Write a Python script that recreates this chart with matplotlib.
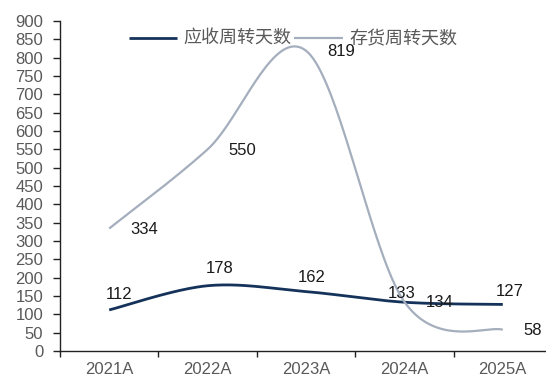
import numpy as np
import matplotlib
matplotlib.use("Agg")
import matplotlib.pyplot as plt

plt.rcParams["font.family"] = ["Liberation Sans", "Noto Sans CJK SC", "DejaVu Sans"]

years = ["2021A", "2022A", "2023A", "2024A", "2025A"]
receivable_days = [112, 178, 162, 133, 127]
inventory_days = [334, 550, 819, 134, 58]

# label offsets in pixels (dx, dy) for the receivable series
recv_offsets = [(10, 11), (12, 13), (6, 10), (-3, 4), (7, 8)]

DARK = "#15335A"
LIGHT = "#A4AEBD"
TICK = "#595959"


def smooth(xs, ys, n=40):
    """Catmull-Rom style bezier smoothing through every point."""
    pts = np.column_stack([xs, ys]).astype(float)
    ext = np.vstack([pts[0], pts, pts[-1]])
    out = []
    for i in range(len(pts) - 1):
        p0, p1, p2, p3 = ext[i], ext[i + 1], ext[i + 2], ext[i + 3]
        c1 = p1 + (p2 - p0) / 6
        c2 = p2 - (p3 - p1) / 6
        t = np.linspace(0, 1, n)[:, None]
        seg = ((1 - t) ** 3) * p1 + 3 * ((1 - t) ** 2) * t * c1 \
            + 3 * (1 - t) * t ** 2 * c2 + t ** 3 * p2
        out.append(seg if i == 0 else seg[1:])
    curve = np.vstack(out)
    return curve[:, 0], curve[:, 1]


fig = plt.figure(figsize=(5.46, 3.78), dpi=100)
ax = fig.add_axes([60 / 546, 27 / 378, 492 / 546, 330 / 378])

x = np.arange(len(years))
rx, ry = smooth(x, receivable_days)
ix, iy = smooth(x, inventory_days)
ax.plot(rx, ry, color=DARK, lw=2.0, label="应收周转天数", zorder=3,
        solid_capstyle="butt")
ax.plot(ix, iy, color=LIGHT, lw=1.6, label="存货周转天数", zorder=4,
        solid_capstyle="butt")

# value labels
for xi, v, (dx, dy) in zip(x, receivable_days, recv_offsets):
    ax.annotate(str(v), (xi, v), xytext=(dx * 0.72, dy * 0.72),
                textcoords="offset points", ha="center", va="baseline",
                fontsize=12, color="#1a1a1a", zorder=5)
for xi, v in zip(x, inventory_days):
    ax.annotate(str(v), (xi, v), xytext=(21 * 0.72, -1 * 0.72),
                textcoords="offset points", ha="left", va="center",
                fontsize=12, color="#1a1a1a", zorder=5)

ax.set_xlim(-0.5, len(years) - 0.5)
ax.set_ylim(0, 900)
ax.set_yticks(np.arange(0, 901, 50))
ax.set_xticks(x)
ax.set_xticklabels(years)
ax.set_xticks(np.arange(-0.5, len(years), 1), minor=True)

for s in ["top", "right"]:
    ax.spines[s].set_visible(False)
for s in ["left", "bottom"]:
    ax.spines[s].set_color("#222222")
    ax.spines[s].set_linewidth(1.0)

ax.tick_params(axis="y", direction="out", length=5, width=1, color="#222222",
               labelsize=12, labelcolor=TICK, pad=7)
ax.tick_params(axis="x", which="major", length=0, labelsize=12,
               labelcolor=TICK, pad=8)
ax.tick_params(axis="x", which="minor", direction="out", length=4.5, width=1,
               color="#222222")

fig.legend(loc="center", bbox_to_anchor=(293 / 546, 1 - 39 / 378),
           ncol=2, frameon=False, handlelength=2.7, handletextpad=0.35,
           columnspacing=0.15, prop={"family": ["Noto Sans CJK SC"], "size": 13},
           labelcolor=TICK)

fig.savefig("out.png", dpi=100)
